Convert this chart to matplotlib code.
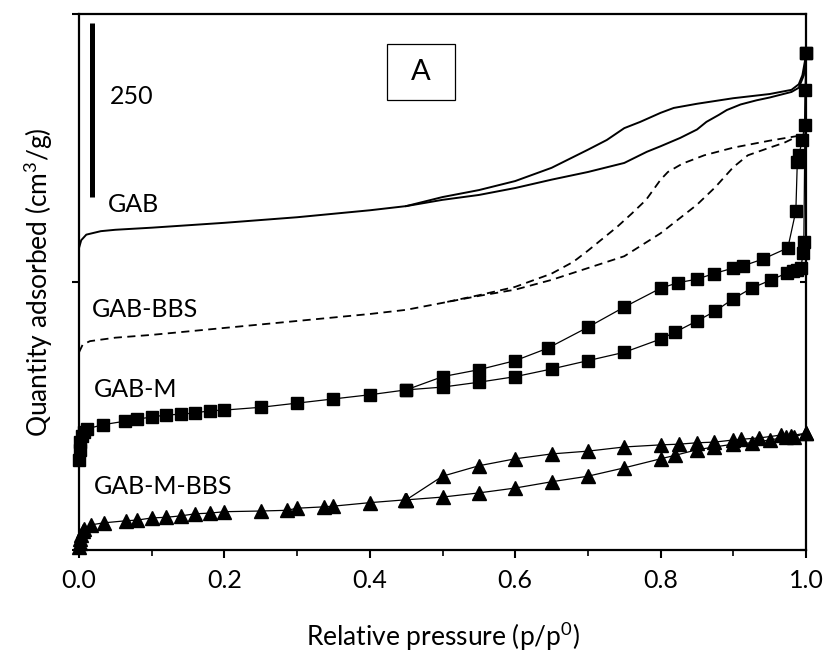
import numpy as np
import matplotlib
matplotlib.use('Agg')
import matplotlib.pyplot as plt
from matplotlib.patches import Rectangle
from matplotlib.ticker import MultipleLocator

plt.rcParams['font.family'] = ['Lato', 'DejaVu Sans']
plt.rcParams['mathtext.default'] = 'regular'

## GAB (solid line, offset in cm3/g as stacked in the figure)
gab_ads_x = [0, 0.003, 0.01, 0.03, 0.05, 0.1, 0.2, 0.3, 0.4, 0.45, 0.5, 0.55, 0.6, 0.65,
             0.7, 0.75, 0.781, 0.8, 0.827, 0.85, 0.863, 0.88, 0.891, 0.91, 0.932, 0.95,
             0.98, 0.99, 0.997, 1.0]
gab_ads_y = [434, 445, 453, 458, 460, 463, 470, 478, 488, 494, 503, 510, 520, 532,
             543, 556, 572, 580, 592, 604, 615, 625, 632, 640, 646, 650,
             658, 664, 682, 711]
gab_des_x = [1.0, 0.995, 0.99, 0.98, 0.95, 0.9, 0.85, 0.818, 0.8, 0.772, 0.75, 0.726,
             0.7, 0.65, 0.6, 0.55, 0.5, 0.45]
gab_des_y = [711, 682, 669, 661, 655, 649, 641, 635, 628, 615, 606, 589,
             575, 549, 530, 517, 507, 494]

## GAB-BBS (dashed)
bbs_ads_x = [0, 0.005, 0.015, 0.05, 0.1, 0.2, 0.3, 0.4, 0.45, 0.5, 0.55, 0.6, 0.65, 0.7,
             0.75, 0.8, 0.85, 0.875, 0.9, 0.92, 0.95, 0.97, 0.99]
bbs_ads_y = [284, 295, 300, 305, 309, 319, 329, 339, 345, 355, 365, 374, 388, 405,
             422, 455, 496, 521, 550, 567, 578, 585, 595]
bbs_des_x = [0.99, 0.95, 0.9, 0.86, 0.83, 0.81, 0.8, 0.78, 0.76, 0.74, 0.7, 0.68, 0.65,
             0.6, 0.55, 0.5]
bbs_des_y = [595, 588, 578, 567, 555, 543, 532, 503, 483, 464, 430, 414, 397, 378, 366, 355]

## GAB-M (squares)
m_ads_x = [0.0005, 0.001, 0.002, 0.004, 0.007, 0.011, 0.033, 0.063, 0.08, 0.1, 0.12, 0.14,
           0.16, 0.18, 0.2, 0.25, 0.3, 0.35, 0.4, 0.45, 0.5, 0.55, 0.6, 0.65, 0.7, 0.75,
           0.8, 0.82, 0.85, 0.875, 0.9, 0.925, 0.952, 0.974, 0.982, 0.988, 0.993, 0.996,
           0.997, 0.999, 1.0]
m_ads_y = [129, 144, 155, 164, 170, 174, 180, 185, 188, 191, 194, 195,
           197, 200, 201, 205, 211, 217, 223, 230, 234, 241, 249, 260, 272, 284,
           303, 313, 329, 343, 361, 376, 388, 398, 401, 402, 405, 427,
           442, 661, 714]
m_des_x = [1.0, 0.998, 0.995, 0.99, 0.988, 0.986, 0.975, 0.941, 0.913, 0.9, 0.873, 0.85,
           0.824, 0.8, 0.75, 0.7, 0.645, 0.6, 0.55, 0.5, 0.45]
m_des_y = [714, 611, 589, 567, 557, 487, 434, 418, 408, 405, 397, 389,
           384, 376, 349, 320, 290, 272, 259, 249, 230]

## GAB-M-BBS (triangles)
mb_ads_x = [0.0005, 0.001, 0.002, 0.003, 0.005, 0.007, 0.016, 0.034, 0.065, 0.08, 0.1, 0.12,
            0.14, 0.16, 0.18, 0.2, 0.25, 0.286, 0.3, 0.337, 0.35, 0.4, 0.448, 0.45, 0.5,
            0.55, 0.6, 0.65, 0.7, 0.75, 0.8, 0.82, 0.85, 0.874, 0.9, 0.925, 0.95, 0.972,
            0.983, 1.0]
mb_ads_y = [4, 10, 16, 22, 27, 30, 36, 39, 42, 43, 46, 47,
            49, 52, 53, 55, 56, 57, 60, 62, 63, 68, 72, 72, 76,
            82, 89, 98, 106, 118, 131, 136, 144, 148, 152, 154, 158, 162,
            162, 168]
mb_des_x = [1.0, 0.979, 0.965, 0.936, 0.91, 0.9, 0.874, 0.85, 0.825, 0.8, 0.75, 0.7,
            0.65, 0.6, 0.55, 0.5, 0.45]
mb_des_y = [168, 164, 165, 161, 159, 158, 155, 154, 152, 151, 148, 142,
            138, 131, 121, 106, 72]

scale_len = 250
labels = ['GAB', 'GAB-BBS', 'GAB-M', 'GAB-M-BBS']
label_pos = [(0.04, 497), (0.018, 345), (0.02, 230), (0.02, 91)]

fig = plt.figure(figsize=(8.25, 6.56), dpi=100)
ax = fig.add_axes([0.0958, 0.1616, 0.8812, 0.8171])

ax.plot(gab_ads_x, gab_ads_y, color='black', lw=1.4)
ax.plot(gab_des_x, gab_des_y, color='black', lw=1.4)
ax.plot(bbs_ads_x, bbs_ads_y, color='black', lw=1.3, ls=(0, (4.5, 3)))
ax.plot(bbs_des_x, bbs_des_y, color='black', lw=1.3, ls=(0, (4.5, 3)))
for xs, ys in [(m_ads_x, m_ads_y), (m_des_x, m_des_y)]:
    ax.plot(xs, ys, color='black', lw=0.9, marker='s', ms=8, mfc='black', mec='black',
            clip_on=False)
for xs, ys in [(mb_ads_x, mb_ads_y), (mb_des_x, mb_des_y)]:
    ax.plot(xs, ys, color='black', lw=0.9, marker='^', ms=9.5, mfc='black', mec='black',
            clip_on=False)

# scale bar
ax.plot([0.018, 0.018], [757 - scale_len, 757], color='black', lw=3.6, solid_capstyle='butt')
ax.text(0.043, 651, str(scale_len), fontsize=18, va='center', ha='left')

for lab, (lx, ly) in zip(labels, label_pos):
    ax.text(lx, ly, lab, fontsize=18, va='center', ha='left')

# panel letter box
ax.add_patch(Rectangle((0.424, 0.8396), 0.093, 0.1044, transform=ax.transAxes,
                       fill=False, edgecolor='black', lw=0.9))
ax.text(0.4705, 0.892, 'A', transform=ax.transAxes, fontsize=21, ha='center', va='center')

ax.set_xlim(0, 1.0)
ax.set_ylim(0, 770)
ax.xaxis.set_major_locator(MultipleLocator(0.2))
ax.xaxis.set_minor_locator(MultipleLocator(0.1))
ax.set_xticklabels([f'{v:.1f}' for v in ax.get_xticks()])
ax.set_yticks([0, 385, 770])
ax.set_yticklabels([])
ax.tick_params(axis='x', which='major', direction='out', length=6, width=1.5, labelsize=18, pad=8)
ax.tick_params(axis='x', which='minor', direction='out', length=4.5, width=1.2)
ax.tick_params(axis='y', direction='out', length=5, width=1.5)
for s in ax.spines.values():
    s.set_linewidth(1.6)

axr = ax.twinx()
axr.set_ylim(0, 770)
axr.set_yticks([0, 385, 770])
axr.set_yticklabels([])
axr.tick_params(axis='y', direction='in', length=4, width=1.5)
for s in axr.spines.values():
    s.set_visible(False)

ax.set_xlabel('Relative pressure (p/p$^0$)', fontsize=19, labelpad=20)
ax.set_ylabel('Quantity adsorbed (cm$^3$/g)', fontsize=19, labelpad=9)

fig.savefig('out.png', dpi=100)
